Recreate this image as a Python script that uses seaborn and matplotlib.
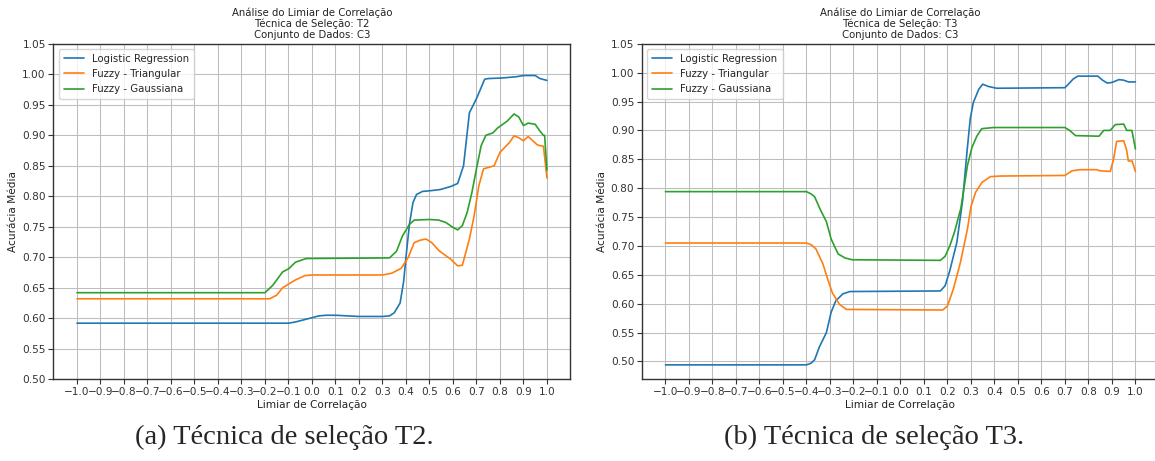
import numpy as np
import pandas as pd
import matplotlib
matplotlib.use("Agg")
import matplotlib.pyplot as plt
import seaborn as sns

# ---------------- data ----------------
series_names = ["Logistic Regression", "Fuzzy - Triangular", "Fuzzy - Gaussiana"]
series_colors = ["#1f77b4", "#ff7f0e", "#2ca02c"]

# Panel (a): T2
t2_lr_x = [-1.0, -0.1, -0.07, -0.03, 0.0, 0.03, 0.06, 0.1, 0.15, 0.2, 0.3, 0.33, 0.35,
           0.375, 0.39, 0.40, 0.415, 0.43, 0.445, 0.47, 0.5, 0.545, 0.59, 0.62, 0.645,
           0.67, 0.70, 0.735, 0.75, 0.81, 0.87, 0.9, 0.95, 0.97, 1.0]
t2_lr_y = [0.592, 0.592, 0.594, 0.598, 0.601, 0.604, 0.605, 0.605, 0.604, 0.603, 0.603,
           0.604, 0.609, 0.625, 0.66, 0.70, 0.755, 0.79, 0.803, 0.808, 0.809, 0.811,
           0.816, 0.821, 0.85, 0.937, 0.96, 0.992, 0.993, 0.994, 0.996, 0.998, 0.998,
           0.993, 0.990]

t2_tri_x = [-1.0, -0.18, -0.15, -0.125, -0.1, -0.07, -0.03, 0.0, 0.3, 0.34, 0.38, 0.41,
            0.435, 0.46, 0.485, 0.51, 0.54, 0.59, 0.62, 0.64, 0.67, 0.69, 0.71, 0.73,
            0.775, 0.80, 0.84, 0.86, 0.88, 0.9, 0.92, 0.94, 0.96, 0.985, 1.0]
t2_tri_y = [0.632, 0.632, 0.638, 0.650, 0.656, 0.663, 0.670, 0.671, 0.671, 0.674, 0.682,
            0.700, 0.724, 0.728, 0.730, 0.724, 0.711, 0.697, 0.686, 0.687, 0.730, 0.768,
            0.817, 0.845, 0.850, 0.872, 0.888, 0.899, 0.896, 0.891, 0.898, 0.891, 0.884,
            0.882, 0.830]

t2_gau_x = [-1.0, -0.2, -0.167, -0.125, -0.1, -0.07, -0.025, 0.33, 0.36, 0.385, 0.415,
            0.435, 0.5, 0.54, 0.57, 0.6, 0.62, 0.64, 0.66, 0.68, 0.70, 0.72, 0.74, 0.77,
            0.79, 0.83, 0.86, 0.88, 0.9, 0.92, 0.95, 0.97, 0.985, 0.99, 1.0]
t2_gau_y = [0.642, 0.642, 0.654, 0.676, 0.681, 0.692, 0.698, 0.699, 0.710, 0.735, 0.754,
            0.761, 0.762, 0.761, 0.757, 0.749, 0.745, 0.752, 0.773, 0.805, 0.845, 0.883,
            0.900, 0.904, 0.912, 0.923, 0.935, 0.930, 0.916, 0.920, 0.918, 0.907, 0.900,
            0.900, 0.843]

# Panel (b): T3
t3_lr_x = [-1.0, -0.4, -0.38, -0.365, -0.345, -0.315, -0.295, -0.275, -0.245, -0.215,
           0.17, 0.19, 0.21, 0.24, 0.265, 0.283, 0.297, 0.31, 0.333, 0.35, 0.375, 0.41,
           0.7, 0.71, 0.735, 0.755, 0.84, 0.86, 0.88, 0.9, 0.93, 0.95, 0.97, 1.0]
t3_lr_y = [0.494, 0.494, 0.497, 0.503, 0.525, 0.550, 0.585, 0.605, 0.617, 0.621, 0.622,
           0.631, 0.657, 0.706, 0.780, 0.862, 0.920, 0.948, 0.971, 0.980, 0.976, 0.973,
           0.974, 0.978, 0.989, 0.994, 0.994, 0.987, 0.982, 0.983, 0.988, 0.987, 0.984,
           0.984]

t3_tri_x = [-1.0, -0.4, -0.38, -0.36, -0.33, -0.31, -0.29, -0.26, -0.23, 0.18, 0.2,
            0.225, 0.255, 0.285, 0.3, 0.32, 0.347, 0.383, 0.425, 0.7, 0.73, 0.763, 0.835,
            0.85, 0.893, 0.907, 0.92, 0.95, 0.962, 0.97, 0.986, 1.0]
t3_tri_y = [0.705, 0.705, 0.702, 0.695, 0.669, 0.643, 0.619, 0.599, 0.590, 0.589, 0.596,
            0.625, 0.671, 0.729, 0.768, 0.793, 0.810, 0.820, 0.821, 0.822, 0.830, 0.832,
            0.832, 0.830, 0.829, 0.850, 0.881, 0.882, 0.867, 0.847, 0.847, 0.829]

t3_gau_x = [-1.0, -0.4, -0.38, -0.365, -0.34, -0.315, -0.295, -0.265, -0.235, -0.205,
            0.17, 0.19, 0.21, 0.23, 0.257, 0.285, 0.304, 0.325, 0.346, 0.396, 0.7, 0.72,
            0.745, 0.845, 0.865, 0.893, 0.914, 0.95, 0.963, 0.985, 1.0]
t3_gau_y = [0.794, 0.794, 0.790, 0.785, 0.762, 0.742, 0.712, 0.686, 0.679, 0.676, 0.675,
            0.682, 0.700, 0.724, 0.765, 0.839, 0.870, 0.890, 0.903, 0.905, 0.905, 0.900,
            0.891, 0.890, 0.900, 0.900, 0.910, 0.911, 0.900, 0.900, 0.868]

x_ticks = [-1.0, -0.9, -0.8, -0.7, -0.6, -0.5, -0.4, -0.3, -0.2, -0.1, 0.0,
           0.1, 0.2, 0.3, 0.4, 0.5, 0.6, 0.7, 0.8, 0.9, 1.0]
y_ticks = [0.50, 0.55, 0.60, 0.65, 0.70, 0.75, 0.80, 0.85, 0.90, 0.95, 1.00, 1.05]

titles = ["Análise do Limiar de Correlação\nTécnica de Seleção: T2\nConjunto de Dados: C3",
          "Análise do Limiar de Correlação\nTécnica de Seleção: T3\nConjunto de Dados: C3"]
captions = ["(a) Técnica de seleção T2.", "(b) Técnica de seleção T3."]
x_label = "Limiar de Correlação"
y_label = "Acurácia Média"

panels = [
    [(t2_lr_x, t2_lr_y), (t2_tri_x, t2_tri_y), (t2_gau_x, t2_gau_y)],
    [(t3_lr_x, t3_lr_y), (t3_tri_x, t3_tri_y), (t3_gau_x, t3_gau_y)],
]
ylims = [(0.50, 1.05), (0.469, 1.05)]

# ---------------- figure ----------------
sns.set_theme(style="ticks")
plt.rcParams["font.family"] = ["DejaVu Sans"]

fig = plt.figure(figsize=(11.55, 4.61), dpi=100)
ax_pos = [[0.0463, 0.1772, 0.4476, 0.7278], [0.5558, 0.1772, 0.4476, 0.7278]]
caption_x = [0.2465, 0.757]

fs = 7.6
for i, pos in enumerate(ax_pos):
    ax = fig.add_axes(pos)
    for (xs, ys), name, col in zip(panels[i], series_names, series_colors):
        df = pd.DataFrame({"x": xs, "y": ys})
        sns.lineplot(data=df, x="x", y="y", ax=ax, color=col, label=name,
                     linewidth=1.2, errorbar=None)
    ax.set_xlim(-1.1, 1.1)
    ax.set_ylim(*ylims[i])
    ax.set_xticks(x_ticks)
    ax.set_yticks(y_ticks)
    ax.set_yticklabels([f"{v:.2f}" for v in y_ticks])
    ax.grid(True, color="#bdbdbd", linewidth=0.75)
    ax.tick_params(labelsize=fs, length=3.5, width=0.8, pad=2, color="#333333",
                   labelcolor="#333333")
    for s in ax.spines.values():
        s.set_color("#333333")
        s.set_linewidth(1.0)
    ax.set_xlabel(x_label, fontsize=fs, labelpad=2, color="#222222")
    ax.set_ylabel(y_label, fontsize=fs, labelpad=3, color="#222222")
    ax.set_title(titles[i], fontsize=fs - 0.3, pad=4, linespacing=1.1, color="#222222")
    leg = ax.legend(loc="upper left", fontsize=fs - 0.3, frameon=True, borderpad=0.5,
                    handlelength=2.0, labelspacing=0.5)
    fig.text(caption_x[i], 0.052, captions[i], ha="center", va="center",
             fontsize=20.5, family=["Liberation Serif"])

fig.savefig("out.png", dpi=100)
